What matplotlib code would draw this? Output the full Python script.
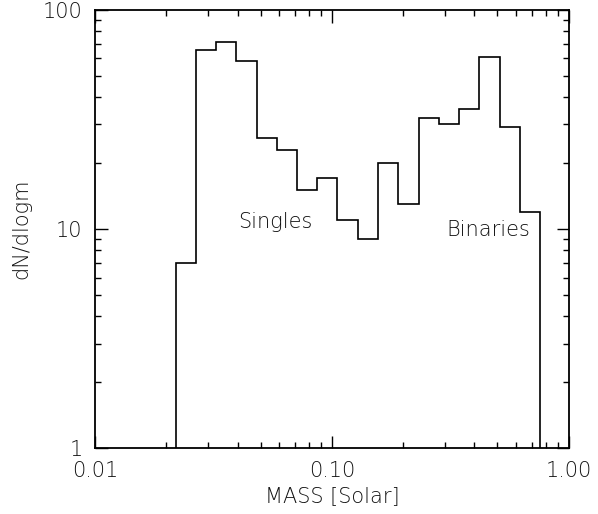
import numpy as np
import matplotlib
matplotlib.use('Agg')
import matplotlib.pyplot as plt

# mass bin edges (solar masses) and dN/dlogm per bin
edges = [0.02186, 0.02668, 0.03240, 0.03935, 0.04811, 0.05843, 0.07141,
         0.08670, 0.1053, 0.1283, 0.1568, 0.1911, 0.2322, 0.2828, 0.3444,
         0.4182, 0.5116, 0.6212, 0.7566]
counts = [7.0, 65.2, 71.4, 58.3, 26.1, 23.0, 15.0, 17.0, 11.0, 8.97,
          20.0, 13.0, 32.2, 30.1, 35.3, 61.2, 29.1, 12.0]

xticks = [0.01, 0.1, 1.0]
xticklabels = ['0.01', '0.10', '1.00']
yticks = [1, 10, 100]
yticklabels = ['1', '10', '100']

plt.rcParams['font.family'] = ['DejaVu Sans']
plt.rcParams['font.weight'] = 'light'
plt.rcParams['axes.labelweight'] = 'light'
txt = '#111111'
fs = 15

fig = plt.figure(figsize=(5.98, 5.14), dpi=100)
ax = fig.add_axes([0.159, 0.128, 0.792, 0.853])

ax.stairs(counts, edges, baseline=1, color='black', linewidth=1.2)

ax.set_xscale('log')
ax.set_yscale('log')
ax.set_xlim(0.01, 1.0)
ax.set_ylim(1, 100)

ax.set_xticks(xticks)
ax.set_xticklabels(xticklabels)
ax.set_yticks(yticks)
ax.set_yticklabels(yticklabels)

ax.tick_params(which='both', direction='in', top=True, right=True,
               width=1.0, colors='black', labelcolor=txt, labelsize=fs)
ax.tick_params(which='major', length=9, pad=9)
ax.tick_params(which='minor', length=4.5)
for s in ax.spines.values():
    s.set_linewidth(1.3)

ax.set_xlabel('MASS [Solar]', fontsize=fs, color=txt, fontweight='light', labelpad=4)
ax.set_ylabel('dN/dlogm', fontsize=fs, color=txt, fontweight='light', labelpad=8)

ax.text(0.0401, 10.8, 'Singles', fontsize=fs, color=txt, va='center', ha='left')
ax.text(0.305, 9.9, 'Binaries', fontsize=fs, color=txt, va='center', ha='left')

fig.savefig('out.png', dpi=100)
